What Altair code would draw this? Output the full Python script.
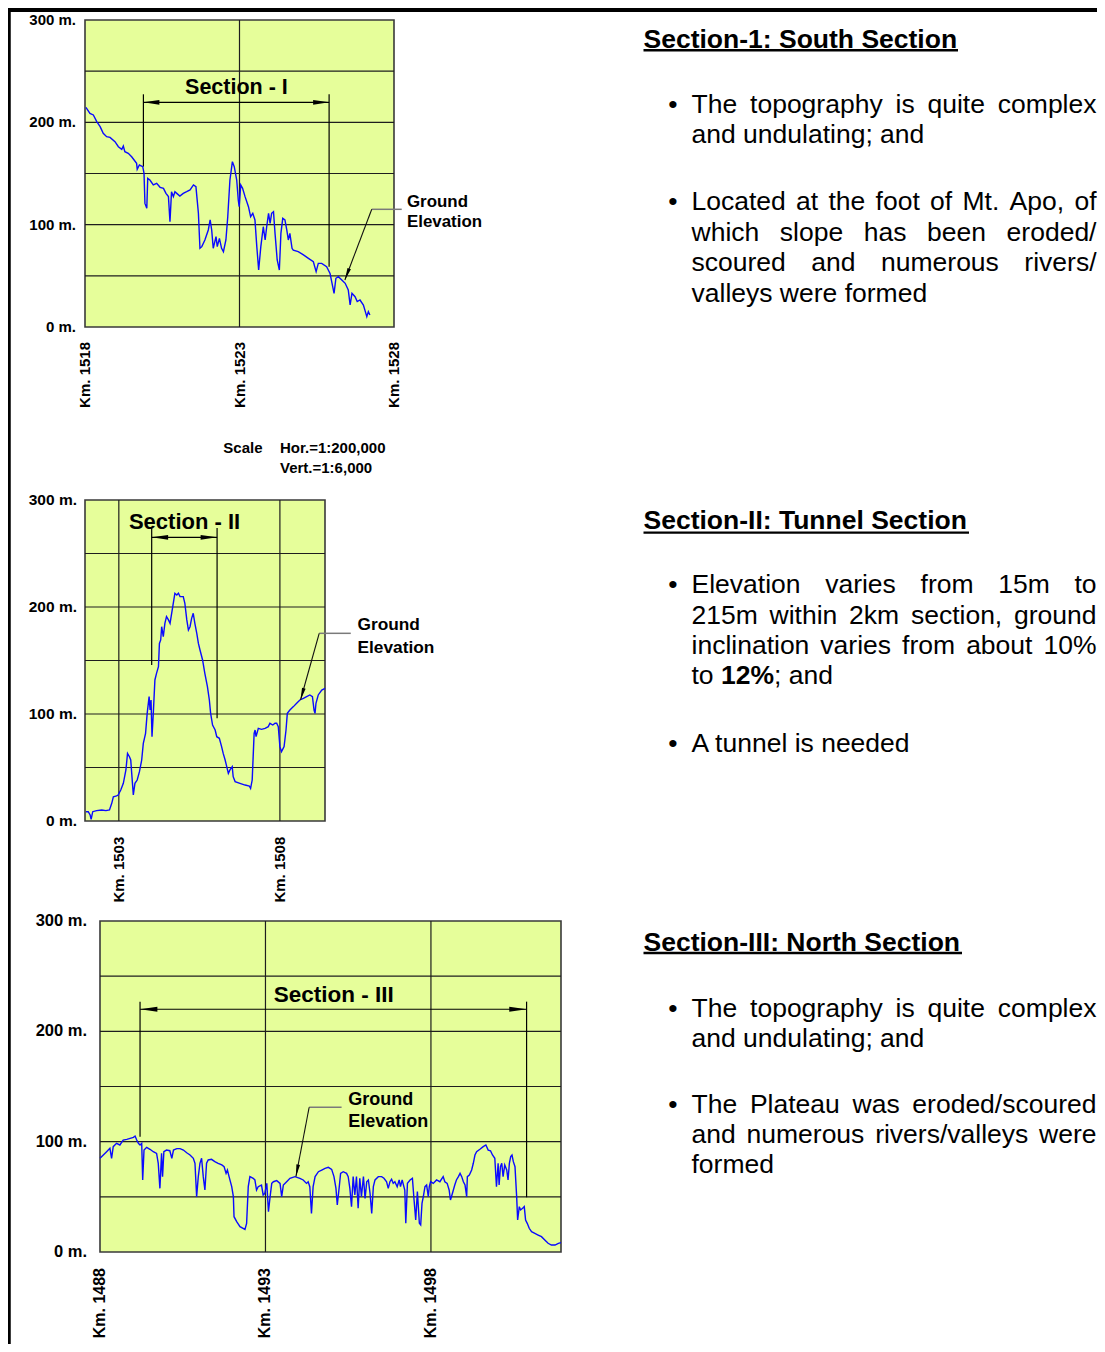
import altair as alt
import pandas as pd

FONT = "Liberation Sans"
YELLOW = "#e6fe9a"
BLUE = "#0a0aff"
OFF = 8  # page margin: view coords = page coords - 8

# ---------------- profile data: chainage (km) and ground elevation (m) ----------------
s1_km = [1518.03, 1518.16, 1518.27, 1518.38, 1518.49, 1518.59, 1518.70, 1518.81, 1518.97, 1519.08,
         1519.19, 1519.24, 1519.29, 1519.40, 1519.51, 1519.67, 1519.69, 1519.76, 1519.87, 1519.91,
         1519.94, 1520.00, 1520.03, 1520.10, 1520.21, 1520.32, 1520.43, 1520.54, 1520.62, 1520.70,
         1520.75, 1520.80, 1520.86, 1520.91, 1520.97, 1521.07, 1521.18, 1521.29, 1521.40, 1521.51,
         1521.59, 1521.67, 1521.72, 1521.78, 1521.88, 1521.99, 1522.05, 1522.10, 1522.15, 1522.24,
         1522.28, 1522.35, 1522.42, 1522.48, 1522.56, 1522.62, 1522.69, 1522.77, 1522.83, 1522.91,
         1522.96, 1522.99, 1523.04, 1523.10, 1523.18, 1523.29, 1523.36, 1523.43, 1523.50, 1523.56,
         1523.62, 1523.69, 1523.77, 1523.83, 1523.88, 1523.94, 1523.99, 1524.04, 1524.10, 1524.15,
         1524.22, 1524.29, 1524.34, 1524.40, 1524.47, 1524.53, 1524.58, 1524.63, 1524.70, 1524.74,
         1524.90, 1525.07, 1525.23, 1525.39, 1525.48, 1525.55, 1525.66, 1525.82, 1525.93, 1526.06,
         1526.12, 1526.20, 1526.31, 1526.42, 1526.52, 1526.58, 1526.64, 1526.74, 1526.81, 1526.90,
         1527.01, 1527.12, 1527.17, 1527.22]
s1_elev = [214.7, 208.8, 207.2, 200.7, 195.8, 189.3, 186.0, 185.3, 181.1, 176.2,
           173.6, 176.9, 171.3, 169.7, 166.4, 159.9, 154.1, 158.3, 156.7, 150.2,
           120.8, 116.0, 145.3, 143.6, 138.8, 140.4, 136.5, 135.5, 130.6, 127.4,
           102.9, 132.2, 127.4, 132.2, 130.6, 128.0, 130.6, 132.2, 133.9, 138.8,
           137.1, 111.1, 76.9, 78.5, 85.0, 94.8, 104.6, 94.8, 76.9, 88.3,
           78.5, 86.6, 76.9, 73.6, 85.0, 107.8, 143.6, 161.6, 156.7, 143.6,
           124.1, 117.6, 138.8, 135.5, 127.4, 117.6, 107.8, 111.1, 104.6, 78.5,
           55.7, 78.5, 98.0, 85.0, 98.0, 111.1, 101.3, 111.1, 112.7, 91.5,
           65.5, 55.7, 91.5, 106.2, 104.6, 94.8, 85.0, 91.5, 76.9, 75.2,
           73.6, 70.4, 67.1, 63.8, 54.1, 62.2, 62.2, 59.0, 52.4, 32.9,
           47.6, 49.2, 45.9, 42.7, 36.2, 21.5, 32.9, 29.6, 24.8, 26.4,
           21.5, 10.1, 15.0, 11.7]

s2_km = [1501.98, 1502.05, 1502.11, 1502.14, 1502.19, 1502.31, 1502.47, 1502.60, 1502.71, 1502.78,
         1502.83, 1502.93, 1502.98, 1503.06, 1503.14, 1503.22, 1503.27, 1503.33, 1503.37, 1503.40,
         1503.45, 1503.50, 1503.57, 1503.64, 1503.71, 1503.76, 1503.83, 1503.88, 1503.94, 1503.97,
         1504.00, 1504.03, 1504.07, 1504.12, 1504.17, 1504.23, 1504.26, 1504.30, 1504.33, 1504.38,
         1504.43, 1504.48, 1504.54, 1504.59, 1504.64, 1504.69, 1504.74, 1504.80, 1504.85, 1504.90,
         1505.00, 1505.05, 1505.11, 1505.16, 1505.21, 1505.26, 1505.31, 1505.36, 1505.42, 1505.47,
         1505.52, 1505.60, 1505.67, 1505.75, 1505.81, 1505.85, 1505.91, 1505.99, 1506.04, 1506.12,
         1506.19, 1506.24, 1506.30, 1506.35, 1506.40, 1506.45, 1506.52, 1506.55, 1506.61, 1506.76,
         1506.92, 1507.05, 1507.09, 1507.14, 1507.20, 1507.23, 1507.26, 1507.33, 1507.43, 1507.54,
         1507.64, 1507.69, 1507.78, 1507.85, 1507.90, 1507.95, 1508.00, 1508.05, 1508.13, 1508.19,
         1508.23, 1508.31, 1508.42, 1508.52, 1508.62, 1508.73, 1508.83, 1508.93, 1509.01, 1509.06,
         1509.09, 1509.12, 1509.19, 1509.30, 1509.40]
s2_elev = [8.7, 8.7, 5.6, 1.6, 8.7, 9.7, 10.3, 9.7, 10.3, 16.5,
           22.7, 23.4, 24.3, 29.0, 35.2, 47.7, 63.2, 60.1, 57.0, 44.5,
           24.3, 35.2, 38.3, 46.1, 57.0, 72.6, 81.9, 100.6, 116.2, 103.7,
           113.1, 78.8, 100.6, 131.8, 138.0, 144.2, 166.0, 169.2, 181.6, 172.3,
           184.7, 191.0, 187.9, 184.7, 194.1, 203.4, 212.8, 211.2, 212.8, 209.7,
           209.7, 203.4, 187.9, 178.5, 181.6, 189.4, 194.1, 184.7, 175.4, 166.0,
           159.8, 150.5, 138.0, 125.5, 113.1, 100.6, 89.7, 85.0, 78.8, 77.3,
           69.5, 63.2, 57.0, 50.8, 44.5, 47.7, 50.8, 41.4, 36.8, 35.2,
           33.6, 32.7, 30.5, 38.3, 81.9, 85.0, 78.8, 86.6, 85.7, 86.6,
           88.2, 91.3, 89.7, 91.3, 91.3, 88.2, 69.5, 64.8, 69.5, 85.0,
           100.6, 103.7, 106.9, 110.0, 113.1, 114.6, 116.2, 117.8, 116.2, 103.7,
           100.6, 110.0, 117.8, 122.4, 124.0]

s3_km = [1488.00, 1488.10, 1488.20, 1488.30, 1488.35, 1488.40, 1488.50, 1488.60, 1488.70, 1488.81,
         1488.91, 1489.01, 1489.06, 1489.11, 1489.16, 1489.21, 1489.26, 1489.29, 1489.33, 1489.41,
         1489.51, 1489.61, 1489.71, 1489.76, 1489.81, 1489.86, 1489.89, 1489.93, 1490.01, 1490.11,
         1490.17, 1490.22, 1490.32, 1490.42, 1490.52, 1490.62, 1490.72, 1490.82, 1490.87, 1490.92,
         1490.97, 1491.02, 1491.07, 1491.12, 1491.17, 1491.22, 1491.27, 1491.37, 1491.47, 1491.57,
         1491.68, 1491.75, 1491.81, 1491.85, 1491.90, 1491.98, 1492.03, 1492.05, 1492.13, 1492.23,
         1492.38, 1492.43, 1492.48, 1492.53, 1492.63, 1492.68, 1492.73, 1492.78, 1492.88, 1492.93,
         1492.98, 1493.04, 1493.09, 1493.14, 1493.19, 1493.24, 1493.34, 1493.44, 1493.49, 1493.54,
         1493.64, 1493.74, 1493.89, 1494.04, 1494.14, 1494.24, 1494.29, 1494.34, 1494.39, 1494.44,
         1494.50, 1494.60, 1494.70, 1494.80, 1494.90, 1495.00, 1495.07, 1495.13, 1495.17, 1495.23,
         1495.27, 1495.35, 1495.45, 1495.50, 1495.55, 1495.60, 1495.65, 1495.70, 1495.75, 1495.80,
         1495.85, 1495.90, 1495.96, 1496.01, 1496.06, 1496.11, 1496.16, 1496.21, 1496.26, 1496.31,
         1496.41, 1496.51, 1496.58, 1496.66, 1496.71, 1496.76, 1496.81, 1496.86, 1496.91, 1496.98,
         1497.04, 1497.08, 1497.13, 1497.21, 1497.24, 1497.29, 1497.37, 1497.44, 1497.49, 1497.54,
         1497.59, 1497.65, 1497.69, 1497.73, 1497.77, 1497.82, 1497.87, 1497.92, 1497.95, 1497.99,
         1498.07, 1498.17, 1498.27, 1498.37, 1498.42, 1498.49, 1498.55, 1498.59, 1498.65, 1498.72,
         1498.77, 1498.83, 1498.88, 1498.93, 1498.98, 1499.03, 1499.08, 1499.10, 1499.16, 1499.23,
         1499.28, 1499.33, 1499.38, 1499.48, 1499.58, 1499.66, 1499.73, 1499.80, 1499.86, 1499.93,
         1499.98, 1500.03, 1500.06, 1500.10, 1500.14, 1500.18, 1500.23, 1500.29, 1500.33, 1500.37,
         1500.41, 1500.45, 1500.49, 1500.54, 1500.59, 1500.62, 1500.67, 1500.71, 1500.77, 1500.82,
         1500.86, 1500.91, 1500.97, 1501.04, 1501.14, 1501.24, 1501.34, 1501.44, 1501.54, 1501.64,
         1501.75, 1501.85, 1501.93]
s3_elev = [84.9, 87.9, 90.9, 94.0, 84.9, 95.5, 98.5, 97.0, 101.5, 102.1,
           103.0, 103.9, 105.1, 101.5, 98.5, 97.0, 98.5, 65.3, 92.4, 94.9,
           93.1, 90.9, 89.4, 80.4, 57.7, 89.4, 68.3, 90.9, 92.4, 91.8,
           84.9, 92.4, 93.7, 93.7, 92.4, 90.0, 87.9, 84.9, 80.4, 50.2,
           68.3, 80.4, 84.9, 68.3, 56.2, 80.4, 83.4, 84.0, 81.9, 80.4,
           78.9, 77.3, 71.3, 74.3, 68.3, 59.2, 50.2, 32.0, 27.5, 23.0,
           20.5, 26.0, 59.2, 68.3, 66.8, 65.3, 56.2, 59.2, 60.7, 51.7,
           53.2, 62.2, 36.6, 50.2, 62.2, 63.7, 64.7, 62.2, 50.2, 60.7,
           63.7, 66.8, 68.3, 66.8, 65.3, 62.2, 63.7, 59.2, 35.0, 59.2,
           68.3, 72.8, 74.3, 75.8, 76.7, 74.9, 68.3, 57.7, 42.6, 59.2,
           71.3, 72.8, 71.3, 68.3, 57.7, 41.1, 68.3, 51.7, 68.3, 39.6,
           66.8, 50.2, 68.3, 48.6, 63.7, 65.3, 53.2, 35.0, 59.2, 65.3,
           68.3, 68.3, 66.8, 63.7, 57.7, 63.7, 65.9, 62.2, 63.7, 59.2,
           65.3, 59.2, 65.3, 56.2, 26.0, 62.2, 65.3, 66.8, 47.1, 29.0,
           54.7, 26.0, 24.5, 44.1, 50.2, 59.2, 60.7, 50.2, 59.2, 63.7,
           62.2, 65.3, 63.7, 68.3, 63.7, 62.2, 56.2, 47.1, 53.2, 60.7,
           65.3, 68.3, 71.3, 68.3, 63.7, 60.7, 50.2, 68.3, 69.8, 74.3,
           80.4, 87.9, 90.9, 93.1, 95.5, 97.0, 92.4, 91.8, 87.9, 84.9,
           59.2, 80.4, 60.7, 77.3, 80.4, 68.3, 78.9, 74.3, 65.3, 80.4,
           86.4, 87.9, 81.9, 77.3, 50.2, 29.0, 41.1, 38.1, 39.6, 41.1,
           29.0, 26.0, 21.5, 18.4, 16.9, 15.4, 13.9, 10.9, 7.9, 6.3,
           6.3, 7.9, 8.5]

GRID_ELEV = [50, 100, 150, 200, 250]
YLAB_VALUES = [0, 100, 200, 300]
YLAB_TEXT = ["0 m.", "100 m.", "200 m.", "300 m."]

# ---------------- text content ----------------
HEADINGS = ["Section-1: South Section", "Section-II: Tunnel Section", "Section-III: North Section"]
BODY_LINES = [
    ("The topography is quite complex", 112.5, True),
    ("and undulating; and", 143.0, False),
    ("Located at the foot of Mt. Apo, of", 210.0, True),
    ("which slope has been eroded/", 240.5, True),
    ("scoured and numerous rivers/", 271.0, True),
    ("valleys were formed", 301.5, False),
    ("Elevation varies from 15m to", 593.3, True),
    ("215m within 2km section, ground", 624.3, True),
    ("inclination varies from about 10%", 654.3, True),
    ("A tunnel is needed", 751.7, False),
    ("The topography is quite complex", 1016.7, True),
    ("and undulating; and", 1046.7, False),
    ("The Plateau was eroded/scoured", 1113.3, True),
    ("and numerous rivers/valleys were", 1143.3, True),
    ("formed", 1173.3, False),
]
HEAD_BASE = [47.5, 529.0, 950.5]
UNDERLINES = [(643.5, 958.0, 50.2), (643.5, 969.0, 532.6), (643.5, 962.0, 953.0)]
BULLET_BASE = [112.5, 210.0, 593.3, 751.7, 1016.7, 1113.3]

# Helvetica/Arial advance widths (1/1000 em), for justified word placement
HELV = dict(zip(" %,-./0123456789:;", [278, 889, 278, 333, 278, 278] + [556] * 10 + [278, 278]))
HELV.update(dict(zip("ABCDEFGHIJKLMNOPQRSTUVWXYZ",
                     [667, 667, 722, 722, 667, 611, 778, 722, 278, 500, 667, 556, 833,
                      722, 778, 667, 778, 722, 667, 611, 722, 667, 944, 667, 667, 611])))
HELV.update(dict(zip("abcdefghijklmnopqrstuvwxyz",
                     [556, 556, 500, 556, 556, 278, 556, 556, 222, 222, 500, 222, 833,
                      556, 556, 556, 556, 333, 500, 278, 556, 500, 722, 500, 500, 500])))


def tw(s, fs):
    return sum(HELV.get(c, 556) for c in s) * fs / 1000.0


FS_BODY = 26.5
L_BODY, R_BODY = 691.5, 1096.5

rows = []


def add(x, y, t, fs, bold, align):
    rows.append(dict(x=x - OFF, y=y - OFF, t=t, fs=fs, b=int(bold), a=align))


for h, yb in zip(HEADINGS, HEAD_BASE):
    add(643.5, yb, h, FS_BODY, True, "left")
for line, yb, just in BODY_LINES:
    words = line.split(" ")
    if just and len(words) > 1:
        widths = [tw(w, FS_BODY) for w in words]
        gap = (R_BODY - L_BODY - sum(widths)) / (len(words) - 1)
        xpos = L_BODY
        for i, (w, wd) in enumerate(zip(words, widths)):
            if i == len(words) - 1:
                add(R_BODY, yb, w, FS_BODY, False, "right")
            else:
                add(xpos, yb, w, FS_BODY, False, "left")
            xpos += wd + gap
    else:
        add(L_BODY, yb, line, FS_BODY, False, "left")
# "to 12%; and" with bold 12%
x_to = L_BODY
x_12 = x_to + tw("to ", FS_BODY)
x_and = x_12 + tw("12%", FS_BODY)
add(x_to, 684.3, "to", FS_BODY, False, "left")
add(x_12, 684.3, "12%", FS_BODY, True, "left")
add(x_and, 684.3, "; and", FS_BODY, False, "left")
for yb in BULLET_BASE:
    add(673.0, yb, "\u2022", FS_BODY, False, "center")
# scale note under section I
add(223.3, 453.3, "Scale", 15, True, "left")
add(280.0, 453.3, "Hor.=1:200,000", 15, True, "left")
add(280.0, 472.7, "Vert.=1:6,000", 15, True, "left")

text_df = pd.DataFrame(rows)


def text_layer(bold, align):
    d = text_df[(text_df.b == bold) & (text_df.a == align)]
    return alt.Chart(d).mark_text(
        align=align, baseline="alphabetic", font=FONT,
        fontWeight="bold" if bold else "normal", color="black"
    ).encode(
        x=alt.X("x:Q", scale=None, axis=None),
        y=alt.Y("y:Q", scale=None, axis=None),
        text="t:N",
        size=alt.Size("fs:Q", scale=None, legend=None),
    )


text_layers = [text_layer(0, "left"), text_layer(0, "right"), text_layer(1, "left"), text_layer(0, "center")]

ul_df = pd.DataFrame({"x0": [u[0] - OFF for u in UNDERLINES],
                      "x1": [u[1] - OFF for u in UNDERLINES],
                      "y": [u[2] - OFF for u in UNDERLINES]})
underline = alt.Chart(ul_df).mark_rule(color="black", strokeWidth=2.4).encode(
    x=alt.X("x0:Q", scale=None, axis=None), x2="x1",
    y=alt.Y("y:Q", scale=None, axis=None))

one = pd.DataFrame({"a": [0]})
border_left = alt.Chart(one).mark_rule(color="black", strokeWidth=3.5).encode(
    x=alt.value(1), y=alt.value(0), y2=alt.value(1336))
border_top = alt.Chart(one).mark_rule(color="black", strokeWidth=4).encode(
    x=alt.value(0), x2=alt.value(1089), y=alt.value(2))

ARROW_SHAPE = "M0,0L-0.3,2L0.3,2Z"


def panel(km, elev, cfg):
    xs = alt.Scale(domain=cfg["xdom"], range=cfg["xrng"], nice=False, zero=False)
    ys = alt.Scale(domain=[0, 300], range=cfg["yrng"], nice=False, zero=False)

    def X(f):
        return alt.X(f + ":Q", scale=xs, axis=None)

    def Y(f):
        return alt.Y(f + ":Q", scale=ys, axis=None)

    x0, x1 = cfg["xdom"]
    bg = alt.Chart(pd.DataFrame({"a": [x0], "b": [x1], "c": [0], "d": [300]})).mark_rect(
        fill=YELLOW, stroke="#3a3a3a", strokeWidth=1.6).encode(x=X("a"), x2="b", y=Y("c"), y2="d")
    hg = alt.Chart(pd.DataFrame({"e": GRID_ELEV, "a": x0, "b": x1})).mark_rule(
        color="#1e1e1e", strokeWidth=1.2).encode(y=Y("e"), x=X("a"), x2="b")
    vg = alt.Chart(pd.DataFrame({"k": cfg["vgrid"], "c": 0, "d": 300})).mark_rule(
        color="#1e1e1e", strokeWidth=1.2).encode(x=X("k"), y=Y("c"), y2="d")
    mk = alt.Chart(pd.DataFrame({"k": [m[0] for m in cfg["markers"]],
                                 "lo": [m[1] for m in cfg["markers"]],
                                 "hi": [m[2] for m in cfg["markers"]]})).mark_rule(
        color="black", strokeWidth=1.2).encode(x=X("k"), y=Y("lo"), y2="hi")
    ka, kb = cfg["markers"][0][0], cfg["markers"][1][0]
    ar = alt.Chart(pd.DataFrame({"a": [ka], "b": [kb], "e": [cfg["arrow_y"]]})).mark_rule(
        color="black", strokeWidth=1.2).encode(x=X("a"), x2="b", y=Y("e"))
    heads = alt.Chart(pd.DataFrame({"k": [ka, kb], "e": [cfg["arrow_y"]] * 2, "ang": [270, 90]})).mark_point(
        shape=ARROW_SHAPE, filled=True, color="black", size=cfg["head"], opacity=1, strokeWidth=0
    ).encode(x=X("k"), y=Y("e"), angle=alt.Angle("ang:Q", scale=None))
    prof = alt.Chart(pd.DataFrame({"km": km, "elev": elev})).mark_line(
        color=BLUE, strokeWidth=1.4).encode(x=X("km"), y=Y("elev"))
    (gx0, gx1, gy), (dx1, dy1) = cfg["leader"]
    lg = alt.Chart(pd.DataFrame({"a": [gx0], "b": [gx1], "e": [gy]})).mark_rule(
        color="#7a7a7a", strokeWidth=1.5).encode(x=X("a"), x2="b", y=Y("e"))
    ld = alt.Chart(pd.DataFrame({"a": [gx1], "b": [dx1], "c": [gy], "d": [dy1]})).mark_rule(
        color="#111111", strokeWidth=1.1).encode(x=X("a"), x2="b", y=Y("c"), y2="d")
    lh = alt.Chart(pd.DataFrame({"k": [dx1], "e": [dy1], "ang": [cfg["lead_angle"]]})).mark_point(
        shape=ARROW_SHAPE, filled=True, color="black", size=150, opacity=1, strokeWidth=0
    ).encode(x=X("k"), y=Y("e"), angle=alt.Angle("ang:Q", scale=None))
    sk, se, ssize = cfg["sec_pos"]
    sec = alt.Chart(pd.DataFrame({"k": [sk], "e": [se], "t": [cfg["sec_text"]]})).mark_text(
        align="center", baseline="alphabetic", font=FONT, fontWeight="bold", fontSize=ssize, color="black"
    ).encode(x=X("k"), y=Y("e"), text="t:N")
    gk, ge1, ge2 = cfg["ground"]
    gl = alt.Chart(pd.DataFrame({"k": [gk, gk], "e": [ge1, ge2], "t": ["Ground", "Elevation"]})).mark_text(
        align="left", baseline="alphabetic", font=FONT, fontWeight="bold", fontSize=cfg["gfs"], color="black"
    ).encode(x=X("k"), y=Y("e"), text="t:N")
    yl = alt.Chart(pd.DataFrame({"v": YLAB_VALUES, "t": YLAB_TEXT})).mark_text(
        align="right", baseline="middle", font=FONT, fontWeight="bold", fontSize=cfg["yfs"], color="black"
    ).encode(y=Y("v"), x=alt.value(cfg["ylab_x"]), text="t:N")
    xl = alt.Chart(pd.DataFrame({"k": cfg["ticks"], "t": ["Km. %d" % t for t in cfg["ticks"]]})).mark_text(
        align="right", baseline="middle", angle=270, font=FONT, fontWeight="bold", fontSize=cfg["xfs"],
        color="black"
    ).encode(x=X("k"), y=alt.value(cfg["tick_y"]), text="t:N")
    return alt.layer(bg, hg, vg, mk, ar, heads, prof, lg, ld, lh, sec, gl, yl, xl)


P1 = dict(xdom=[1518, 1528], xrng=[77, 386], yrng=[319, 12], vgrid=[1523], ticks=[1518, 1523, 1528],
          tick_y=334, ylab_x=68, markers=[(1519.89, 156.7, 227.4), (1525.90, 58.9, 227.4)], arrow_y=219.6,
          head=256, sec_text="Section - I", sec_pos=(1522.90, 227.4, 21.5), ground=(1528.42, 117.6, 98.0),
          leader=((1528.25, 1527.28, 115.0), (1526.41, 45.9)), lead_angle=200.7,
          gfs=16.9, yfs=15, xfs=15)
P2 = dict(xdom=[1501.95, 1509.4], xrng=[77, 317], yrng=[813, 492], vgrid=[1503, 1508], ticks=[1503, 1508],
          tick_y=828.7, ylab_x=69, markers=[(1504.02, 145.8, 273.8), (1506.05, 96.0, 273.8)], arrow_y=265.1,
          head=270, sec_text="Section - II", sec_pos=(1505.04, 272.6, 22), ground=(1510.41, 178.5, 156.7),
          leader=((1510.20, 1509.22, 175.4), (1508.64, 113.1)), lead_angle=195.7,
          gfs=17.3, yfs=15.5, xfs=15)
P3 = dict(xdom=[1488, 1501.93], xrng=[92, 553], yrng=[1244, 913], vgrid=[1493, 1498], ticks=[1488, 1493, 1498],
          tick_y=1260, ylab_x=79, markers=[(1489.21, 104.5, 226.9), (1500.89, 49.6, 226.9)], arrow_y=220.0,
          head=300, sec_text="Section - III", sec_pos=(1495.06, 226.9, 22.5), ground=(1495.50, 133.2, 113.0),
          leader=((1495.30, 1494.32, 131.2), (1493.92, 68.3)), lead_angle=190.8,
          gfs=18, yfs=16.5, xfs=16)

chart = alt.layer(
    panel(s1_km, s1_elev, P1),
    panel(s2_km, s2_elev, P2),
    panel(s3_km, s3_elev, P3),
    underline, *text_layers, border_left, border_top,
).resolve_scale(x="independent", y="independent").properties(
    width=1089, height=1336, autosize=alt.AutoSizeParams(type="none"), padding=0, background="white"
).configure_view(stroke=None)

chart.save("out.html", embed_options={"renderer": "svg", "actions": False})
